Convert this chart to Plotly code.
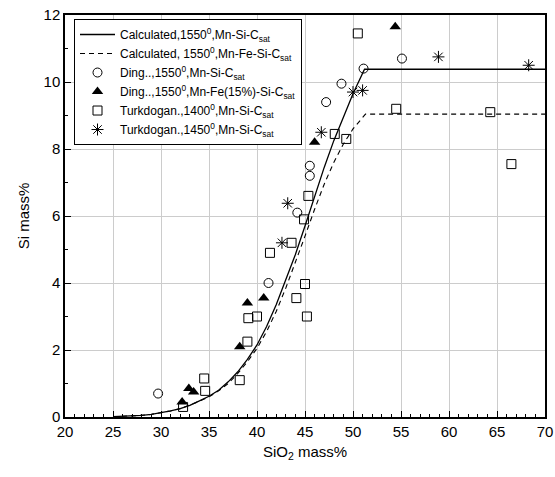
import plotly.graph_objects as go

# Calculated curves
calc_mnsi_x = [25, 26, 27, 28, 29, 30, 31, 32, 33, 34, 35, 36, 37, 38, 39, 40, 41, 42, 43, 44, 45, 46, 47, 48, 49, 50, 51.2, 70]
calc_mnsi_y = [0.01, 0.02, 0.03, 0.05, 0.08, 0.12, 0.18, 0.25, 0.35, 0.48, 0.62, 0.8, 1.05, 1.35, 1.72, 2.15, 2.7, 3.35, 4.1, 4.85, 5.7, 6.6, 7.45, 8.25, 8.95, 9.65, 10.38, 10.38]
calc_mnfe_x = [25, 26, 27, 28, 29, 30, 31, 32, 33, 34, 35, 36, 37, 38, 39, 40, 41, 42, 43, 44, 45, 46, 47, 48, 49, 50, 51.3, 70]
calc_mnfe_y = [0.01, 0.02, 0.03, 0.05, 0.08, 0.12, 0.18, 0.25, 0.35, 0.47, 0.6, 0.78, 1.0, 1.3, 1.65, 2.05, 2.55, 3.15, 3.85, 4.6, 5.4, 6.2, 6.95, 7.6, 8.15, 8.6, 9.04, 9.04]

# Ding, 1550, Mn-Si-Csat
ding1_x = [29.7, 41.2, 44.2, 45.5, 45.5, 47.2, 48.8, 51.1, 55.1]
ding1_y = [0.7, 4.0, 6.1, 7.5, 7.2, 9.4, 9.95, 10.4, 10.7]

# Ding, 1550, Mn-Fe(15%)-Si-Csat
ding2_x = [32.2, 32.9, 33.4, 38.2, 39.0, 40.7, 46.0, 54.4]
ding2_y = [0.45, 0.85, 0.75, 2.1, 3.4, 3.55, 8.2, 11.65]

# Turkdogan, 1400
turk1_x = [32.3, 34.5, 34.6, 38.2, 39.0, 39.1, 40.0, 41.35, 43.6, 45.0, 44.1, 45.2, 45.35, 44.9, 48.1, 49.3, 50.5, 54.5, 64.3, 66.5]
turk1_y = [0.3, 1.15, 0.78, 1.1, 2.25, 2.95, 3.0, 4.9, 5.2, 3.97, 3.55, 3.0, 6.6, 5.9, 8.45, 8.3, 11.45, 9.2, 9.1, 7.55]

# Turkdogan, 1450
turk2_x = [42.6, 43.2, 46.7, 50.0, 51.0, 58.9, 68.3]
turk2_y = [5.2, 6.38, 8.5, 9.7, 9.75, 10.75, 10.5]

names = [
    "Calculated,1550<sup>0</sup>,Mn-Si-C<sub>sat</sub>",
    "Calculated, 1550<sup>0</sup>,Mn-Fe-Si-C<sub>sat</sub>",
    "Ding..,1550<sup>0</sup>,Mn-Si-C<sub>sat</sub>",
    "Ding..,1550<sup>0</sup>,Mn-Fe(15%)-Si-C<sub>sat</sub>",
    "Turkdogan.,1400<sup>0</sup>,Mn-Si-C<sub>sat</sub>",
    "Turkdogan.,1450<sup>0</sup>,Mn-Si-C<sub>sat</sub>",
]

FONT = "Liberation Sans, Arial"

fig = go.Figure()
fig.add_trace(go.Scatter(x=calc_mnsi_x, y=calc_mnsi_y, mode="lines", name=names[0],
                         line=dict(color="black", width=1.3)))
fig.add_trace(go.Scatter(x=calc_mnfe_x, y=calc_mnfe_y, mode="lines", name=names[1],
                         line=dict(color="black", width=1.1, dash="5px,4px")))
fig.add_trace(go.Scatter(x=ding1_x, y=ding1_y, mode="markers", name=names[2],
                         marker=dict(symbol="circle-open", size=9, color="black", line=dict(width=1))))
fig.add_trace(go.Scatter(x=ding2_x, y=ding2_y, mode="markers", name=names[3],
                         marker=dict(symbol="triangle-up", size=10, color="black")))
fig.add_trace(go.Scatter(x=turk1_x, y=turk1_y, mode="markers", name=names[4],
                         marker=dict(symbol="square-open", size=9, color="black", line=dict(width=1))))
fig.add_trace(go.Scatter(x=turk2_x, y=turk2_y, mode="markers", name=names[5],
                         marker=dict(symbol="asterisk-open", size=10, color="black", line=dict(width=1, color="black"))))

axis_common = dict(
    showline=True, linecolor="black", linewidth=1.5, mirror=True,
    ticks="inside", ticklen=6, tickcolor="black", tickwidth=1,
    showgrid=True, gridcolor="#cccccc", gridwidth=1, zeroline=False,
    tickfont=dict(family=FONT, size=15, color="black"),
    automargin=False,
)

fig.update_xaxes(range=[20, 70], dtick=5, tick0=20,
                 minor=dict(dtick=1, ticks="inside", ticklen=3, tickcolor="black", showgrid=False),
                 title=dict(text="SiO<sub>2</sub> mass%", font=dict(family=FONT, size=15, color="black"), standoff=8),
                 **axis_common)
fig.update_yaxes(range=[0, 12], dtick=2, tick0=0,
                 minor=dict(dtick=1, ticks="inside", ticklen=3, tickcolor="black", showgrid=False),
                 title=dict(text="Si mass%", font=dict(family=FONT, size=15, color="black"), standoff=10),
                 **axis_common)

fig.update_layout(
    width=555, height=477,
    margin=dict(l=65, r=10, t=15, b=60),
    plot_bgcolor="white", paper_bgcolor="white",
    font=dict(family=FONT, color="black"),
    legend=dict(x=0.01875, y=0.99, xanchor="left", yanchor="top",
                bgcolor="white", bordercolor="black", borderwidth=1,
                font=dict(size=12, color="black", family=FONT),
                itemwidth=35, tracegroupgap=0),
    showlegend=True,
)

fig.write_html("out.html",
               config={"displayModeBar": False},
               post_script="document.body.style.margin='0';document.body.style.overflow='hidden';")
